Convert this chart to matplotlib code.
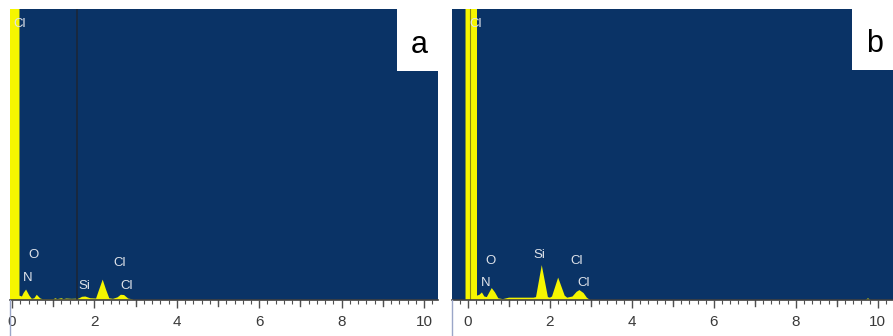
import matplotlib
matplotlib.use("Agg")
import matplotlib.pyplot as plt
from matplotlib.ticker import MultipleLocator

# spectrum outlines, energy in keV, counts in % of panel height
a_energy = [-0.06, -0.06, 0.18, 0.18, 0.24, 0.28, 0.34, 0.42, 0.48, 0.54, 0.60, 0.68, 0.75,
            1.00, 1.05, 1.10, 1.20, 1.25, 1.32, 1.45, 1.62, 1.70, 1.78, 1.90, 2.04, 2.10,
            2.20, 2.28, 2.36, 2.45, 2.56, 2.64, 2.72, 2.82, 2.90, 2.95]
a_counts = [0, 130, 130, 1.5, 1.2, 2.4, 3.6, 1.5, 0.4, 0.6, 1.8, 0.6, 0.2,
            0.2, 0.6, 0.3, 0.6, 0.3, 0.5, 0.4, 0.5, 1.1, 1.2, 0.6, 0.5, 3.0,
            7.0, 3.6, 0.6, 0.4, 0.9, 1.8, 1.7, 0.5, 0.3, 0]

b_energy = [-0.06, -0.06, 0.22, 0.22, 0.28, 0.34, 0.40, 0.46, 0.52, 0.58, 0.66, 0.74, 0.85,
            1.00, 1.60, 1.66, 1.80, 1.95, 2.00, 2.05, 2.20, 2.36, 2.42, 2.55, 2.65, 2.72,
            2.82, 2.90, 2.98, 9.70, 9.76, 9.82]
b_counts = [0, 130, 130, 1.5, 1.8, 2.6, 1.2, 1.0, 2.6, 4.1, 2.6, 0.6, 0.3,
            0.8, 0.8, 1.0, 12.0, 1.0, 0.8, 1.2, 7.7, 1.5, 0.8, 1.2, 2.8, 3.4,
            2.4, 0.8, 0, 0, 0.6, 0]

# peak labels: (text, keV, height)
a_labels = [("Cl", 0.19, 95.0), ("O", 0.52, 15.5), ("N", 0.37, 7.5),
            ("Si", 1.75, 4.7), ("Cl", 2.62, 12.7), ("Cl", 2.78, 4.8)]
b_labels = [("Cl", 0.18, 95.0), ("O", 0.54, 13.5), ("N", 0.42, 6.0),
            ("Si", 1.75, 15.5), ("Cl", 2.64, 13.5), ("Cl", 2.82, 6.0)]

navy = "#0a3366"
yellow = "#f6f600"

fig = plt.figure(figsize=(8.93, 3.36), dpi=100)


def panel(rect, xlim, energy, counts, labels, letter, box_rect):
    ax = fig.add_axes(rect)
    ax.set_facecolor(navy)
    ax.fill(energy, counts, color=yellow, lw=0)
    ax.set_xlim(*xlim)
    ax.set_ylim(0, 100)
    for txt, x, y in labels:
        ax.text(x, y, txt, color="#dfe3ea", fontsize=9.5, family="Liberation Sans",
                ha="center", va="center")
    ax.xaxis.set_major_locator(MultipleLocator(2))
    ax.xaxis.set_minor_locator(MultipleLocator(0.2))
    ax.tick_params(axis="x", which="major", length=6, width=1, color="#505050",
                   labelsize=11, labelcolor="#3a3a3a", pad=5)
    ax.tick_params(axis="x", which="minor", length=3, width=0.8, color="#505050")
    for lab in ax.get_xticklabels():
        lab.set_family("Liberation Sans")
    ax.set_yticks([])
    for s in ["top", "right", "left"]:
        ax.spines[s].set_visible(False)
    ax.spines["bottom"].set_color("#404040")
    ax.spines["bottom"].set_linewidth(1.2)
    # long ticks at odd keV too
    for k in range(1, 11, 2):
        ax.plot([k, k], [0, -2.1], color="#505050", lw=1, clip_on=False)
    # letter box
    bx = fig.add_axes(box_rect)
    bx.set_facecolor("white")
    bx.set_xticks([])
    bx.set_yticks([])
    for s in bx.spines.values():
        s.set_visible(False)
    bx.text(0.55, 0.42, letter, fontsize=22, family="Liberation Sans",
            ha="center", va="center", transform=bx.transAxes)
    return ax


W, H = 893, 336


def r(x0, y0, x1, y1):
    return [x0 / W, 1 - y1 / H, (x1 - x0) / W, (y1 - y0) / H]


ax_a = panel(r(10, 9, 438, 300), (-0.05, 10.34), a_energy, a_counts, a_labels, "a",
             r(397, 8, 438, 71))
ax_a.axvline(1.58, color="#1c2638", lw=1.2)

ax_b = panel(r(452, 9, 893, 300), (-0.39, 10.37), b_energy, b_counts, b_labels, "b",
             r(852, 8, 893, 70))
ax_b.axvline(0.05, color="#8a8a10", lw=0.8)

# thin left borders below the panels
for x in [10, 452]:
    fig.add_artist(plt.Line2D([x / W, x / W], [0, 36 / H], color="#9aa6c8", lw=1))

fig.savefig("out.png", dpi=100)
